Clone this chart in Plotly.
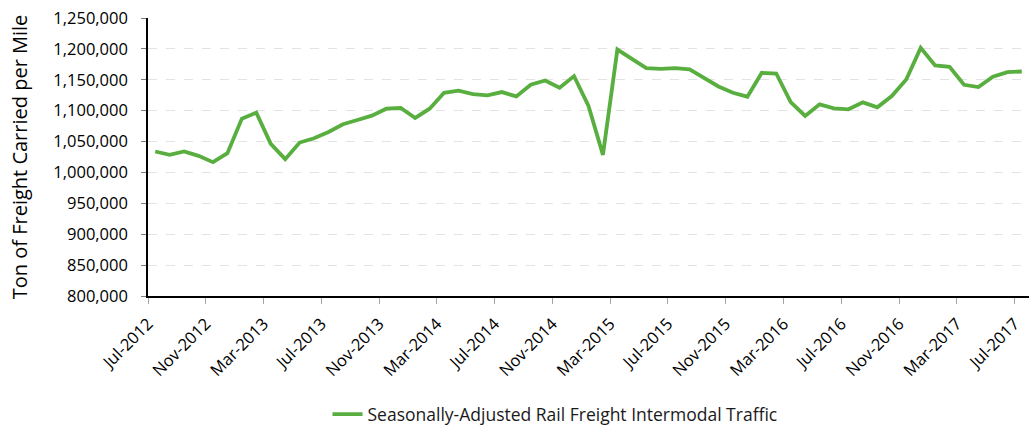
import plotly.graph_objects as go

tick_labels = ["Jul-2012", "Nov-2012", "Mar-2013", "Jul-2013", "Nov-2013", "Mar-2014",
               "Jul-2014", "Nov-2014", "Mar-2015", "Jul-2015", "Nov-2015", "Mar-2016",
               "Jul-2016", "Nov-2016", "Mar-2017", "Jul-2017"]

# Monthly values Jul-2012 .. Jul-2017
traffic = [
    1033900, 1028500, 1033900, 1026900, 1016700, 1031200,  # Jul-Dec 2012
    1087100, 1096800, 1046200, 1021500, 1048400, 1055400,  # Jan-Jun 2013
    1065600, 1078000, 1084900, 1091900, 1103200, 1104300,  # Jul-Dec 2013
    1088200, 1103200, 1129000, 1132300, 1126900, 1124700,  # Jan-Jun 2014
    1130100, 1123100, 1141900, 1148900, 1137100, 1155900,  # Jul-Dec 2014
    1107500, 1028500, 1198900, 1184400, 1168800, 1167700,  # Jan-Jun 2015
    1168800, 1166700, 1153200, 1139200, 1129000, 1122600,  # Jul-Dec 2015
    1161300, 1160200, 1114000, 1091400, 1110200, 1103800,  # Jan-Jun 2016
    1102200, 1113400, 1105400, 1123700, 1150500, 1201600,  # Jul-Dec 2016
    1173100, 1171000, 1141900, 1138200, 1154800, 1162400,  # Jan-Jun 2017
    1163400,                                               # Jul 2017
]

series_name = "Seasonally-Adjusted Rail Freight Intermodal Traffic"

x_idx = list(range(len(traffic)))
tick_pos = [i * 4 - 0.5 for i in range(len(tick_labels))]

fig = go.Figure()
fig.add_trace(go.Scatter(
    x=x_idx, y=traffic, mode="lines", name=series_name,
    line=dict(color="#58AE3E", width=3.8),
))

font_family = "Open Sans, Noto Sans, sans-serif"

fig.update_layout(
    width=1034, height=427,
    margin=dict(l=148, r=5, t=18, b=131, autoexpand=False),
    paper_bgcolor="white", plot_bgcolor="white",
    font=dict(family=font_family, color="#000000", size=16),
    showlegend=True,
    legend=dict(orientation="h", xref="paper", x=0.462, xanchor="center",
                yref="container", y=0.03, yanchor="middle",
                font=dict(size=17.5, color="#1a1a1a")),
)

fig.update_xaxes(
    range=[-0.5, 60.5], automargin=False,
    tickmode="array", tickvals=tick_pos, ticktext=tick_labels,
    tickangle=-45, tickfont=dict(size=16.5),
    ticklabelstandoff=4,
    showgrid=False, zeroline=False,
    showline=True, linecolor="#000000", linewidth=1.5,
    ticks="outside", ticklen=6, tickcolor="#A6A6A6", tickwidth=1,
)

fig.update_yaxes(
    range=[800000, 1250000], dtick=50000, tick0=800000, automargin=False,
    tickformat=",d", tickfont=dict(size=16.5),
    showgrid=True, gridcolor="#E3E3E3", griddash="dash", gridwidth=1,
    zeroline=False,
    showline=True, linecolor="#000000", linewidth=1.5,
    ticks="outside", ticklen=5, tickcolor="#7F7F7F",
    ticklabelstandoff=10,
    title=dict(text="Ton of Freight Carried per Mile", font=dict(size=20), standoff=20),
)

fig.write_html("out.html",
               config={"displayModeBar": False},
               post_script="document.body.style.margin='0';document.body.style.overflow='hidden';")
